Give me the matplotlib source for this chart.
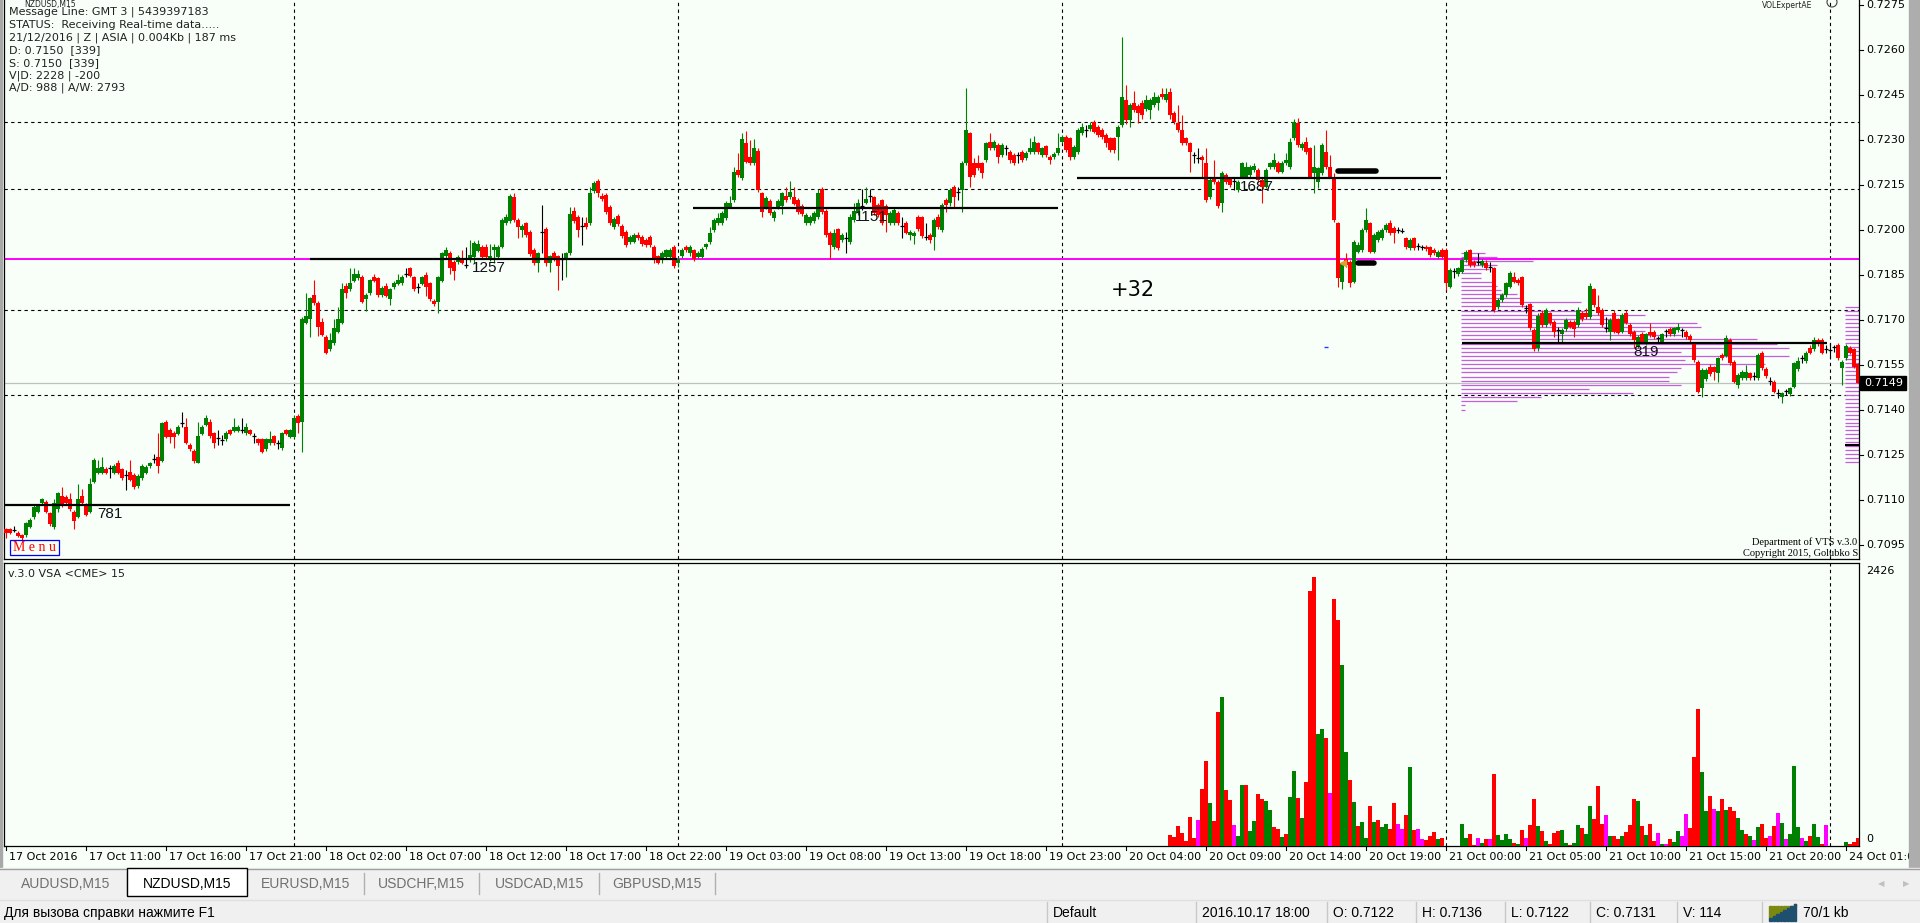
import numpy as np
import matplotlib
matplotlib.use('Agg')
import matplotlib.pyplot as plt
from matplotlib.patches import Rectangle

# ---- candles, NZDUSD M15, prices in points above 0.70000 ----
opens = [1002,1002,1000,991,983,983,1011,1042,1061,1089,1092,1055,1011,1069,1113,1111,1102,1061,1044,1113,
 1083,1061,1161,1191,1191,1203,1204,1191,1224,1202,1183,1194,1183,1147,1172,1191,1213,1235,1244,1231,
 1361,1333,1324,1320,1355,1344,1283,1264,1222,1320,1350,1361,1322,1305,1300,1302,1333,1331,1331,1333,
 1322,1333,1311,1302,1302,1269,1289,1313,1289,1272,1333,1311,1311,1380,1361,1691,1702,1783,1756,1694,
 1644,1602,1622,1661,1691,1813,1802,1831,1839,1844,1769,1789,1842,1839,1783,1813,1769,1809,1820,1822,
 1852,1872,1842,1810,1820,1850,1822,1764,1761,1831,1913,1922,1894,1894,1906,1883,1900,1911,1931,1944,
 1944,1902,1933,1911,1944,2022,2031,2111,2033,2000,2022,1994,1933,1889,1991,2003,1891,1924,1913,1902,
 1902,1922,2064,2044,2013,2022,2022,2131,2164,2113,2117,2076,2011,2047,2013,1994,1961,1961,1983,1976,
 1967,1976,1944,1913,1906,1911,1911,1944,1889,1913,1944,1922,1933,1911,1911,1942,1961,2000,2024,2022,
 2039,2078,2100,2200,2172,2289,2242,2222,2264,2122,2076,2098,2039,2076,2080,2113,2111,2111,2100,2080,
 2024,2024,2031,2042,2136,2064,1991,1942,2002,1967,1972,1961,2033,2056,2080,2091,2111,2109,2083,2100,
 2080,2022,2022,2056,2013,2024,1983,1980,2044,2042,1977,1983,1976,2044,2000,2100,2091,2144,2127,2133,
 2222,2322,2222,2222,2222,2233,2294,2272,2283,2250,2271,2261,2250,2250,2261,2239,2261,2261,2289,2250,
 2280,2244,2242,2256,2294,2311,2306,2244,2261,2322,2333,2336,2361,2344,2333,2317,2306,2306,2311,2350,
 2433,2367,2422,2413,2424,2402,2400,2417,2422,2453,2433,2461,2391,2356,2333,2306,2289,2249,2239,2244,
 2222,2111,2172,2161,2091,2183,2172,2161,2133,2178,2178,2183,2200,2200,2167,2144,2211,2211,2224,2194,
 2222,2211,2306,2356,2272,2294,2272,2189,2161,2189,2261,2211,2178,2022,1828,1902,1894,1828,1928,1933,
 2000,2022,1928,1967,1972,2000,2022,2006,1999,1997,1972,1939,1972,1947,1942,1944,1942,1933,1911,1933,
 1933,1811,1861,1853,1861,1900,1933,1894,1894,1883,1889,1877,1872,1742,1767,1783,1811,1844,1833,1842,
 1739,1753,1667,1606,1722,1683,1722,1694,1666,1653,1669,1694,1694,1683,1724,1722,1709,1802,1742,1733,
 1672,1661,1722,1702,1661,1722,1683,1661,1611,1653,1622,1661,1661,1638,1628,1661,1669,1653,1667,1664,
 1661,1647,1622,1561,1472,1502,1544,1542,1522,1583,1580,1633,1561,1483,1506,1506,1522,1511,1506,1591,
 1536,1494,1494,1456,1444,1461,1453,1478,1536,1572,1564,1606,1602,1633,1633,1602,1600,1609,1617,1539,
 1572,1606,1602,1553]
highs = [1008,1005,1013,995,985,1025,1040,1082,1088,1105,1100,1060,1102,1125,1142,1118,1122,1066,1153,1135,
 1090,1172,1240,1233,1242,1211,1217,1220,1233,1208,1200,1233,1190,1185,1220,1216,1228,1253,1324,1360,
 1366,1340,1330,1350,1394,1372,1290,1270,1361,1350,1383,1370,1328,1333,1317,1330,1338,1372,1350,1372,
 1356,1338,1322,1306,1306,1306,1331,1318,1300,1326,1338,1338,1383,1386,1710,1791,1778,1833,1762,1706,
 1650,1655,1702,1742,1824,1824,1872,1872,1866,1850,1790,1838,1853,1844,1812,1822,1808,1830,1853,1850,
 1872,1878,1848,1822,1848,1861,1828,1770,1848,1928,1945,1930,1900,1916,1933,1944,1967,1962,1967,1950,
 1953,1953,1953,1950,2040,2053,2120,2122,2040,2020,2028,2000,1940,1928,2083,2010,1918,1931,1918,1922,
 1928,2076,2076,2050,2044,2044,2142,2164,2170,2122,2122,2082,2042,2053,2020,2000,1982,1989,1994,1982,
 1972,1982,1950,1918,1930,1938,1940,1950,1911,1940,1950,1950,1938,1930,1942,1958,2011,2040,2056,2062,
 2097,2112,2211,2256,2322,2331,2300,2302,2272,2128,2112,2104,2066,2104,2128,2142,2164,2142,2106,2086,
 2056,2050,2062,2136,2142,2070,1996,2002,2008,1990,1994,2053,2089,2102,2136,2142,2136,2115,2089,2102,
 2086,2062,2076,2062,2042,2030,2000,1997,2050,2048,2022,1989,2040,2053,2090,2106,2139,2150,2144,2230,
 2472,2328,2240,2250,2228,2295,2322,2300,2290,2289,2283,2267,2256,2261,2267,2262,2306,2313,2295,2278,
 2283,2250,2260,2322,2317,2317,2311,2283,2340,2356,2350,2361,2367,2350,2340,2322,2311,2311,2350,2644,
 2483,2425,2464,2420,2433,2450,2440,2461,2450,2472,2472,2472,2397,2417,2383,2311,2295,2261,2272,2250,
 2272,2172,2233,2167,2196,2189,2178,2172,2167,2228,2228,2217,2222,2206,2172,2206,2228,2256,2230,2230,
 2256,2306,2369,2372,2294,2311,2278,2283,2211,2289,2333,2250,2189,2028,1894,1922,1900,1967,1961,2006,
 2072,2028,1989,2000,2006,2022,2033,2012,2011,2006,1978,1972,1978,1956,1950,1950,1948,1939,1933,1939,
 1939,1872,1872,1878,1906,1933,1936,1900,1922,1903,1900,1894,1878,1772,1789,1828,1864,1861,1839,1848,
 1750,1758,1672,1722,1733,1739,1728,1700,1678,1672,1706,1700,1700,1742,1730,1739,1824,1808,1783,1739,
 1711,1706,1733,1708,1722,1733,1689,1666,1650,1661,1658,1691,1666,1647,1658,1669,1675,1678,1691,1672,
 1666,1653,1628,1567,1539,1539,1553,1548,1578,1589,1650,1639,1567,1522,1533,1550,1528,1528,1589,1597,
 1542,1511,1500,1469,1461,1469,1478,1561,1578,1583,1597,1617,1642,1639,1639,1617,1622,1617,1622,1567,
 1620,1614,1608,1558]
lows = [972,985,994,976,968,978,1008,1038,1055,1085,1055,1012,1002,1060,1075,1084,1062,1002,1040,1086,
 1045,1055,1155,1186,1186,1186,1172,1186,1185,1168,1133,1162,1138,1140,1168,1185,1208,1222,1191,1225,
 1305,1291,1272,1315,1344,1285,1262,1222,1222,1315,1345,1308,1272,1283,1283,1296,1315,1326,1326,1324,
 1318,1315,1291,1284,1256,1262,1284,1284,1269,1268,1315,1305,1305,1322,1261,1685,1642,1750,1647,1645,
 1585,1598,1617,1655,1685,1772,1796,1826,1833,1755,1731,1783,1826,1778,1778,1775,1750,1803,1815,1815,
 1844,1842,1796,1791,1815,1780,1762,1748,1722,1826,1908,1853,1833,1888,1886,1872,1895,1889,1926,1906,
 1906,1898,1889,1906,1940,2017,2025,2028,1972,1978,1978,1915,1883,1861,1922,1880,1861,1897,1800,1833,
 1844,1917,2025,1978,1950,2005,2017,2125,2111,2097,2055,2018,2005,2015,1975,1944,1955,1956,1967,1948,
 1945,1944,1891,1886,1891,1906,1906,1872,1878,1908,1928,1913,1898,1906,1906,1936,1955,1995,2018,2017,
 2033,2072,2095,2178,2166,2222,2216,2216,2128,2042,2070,2050,2031,2070,2053,2095,2105,2082,2055,2048,
 2018,2018,2025,2036,2055,1978,1902,1936,1933,1961,1922,1955,2028,2050,2067,2086,2094,2050,2044,2017,
 1994,2017,2017,2017,1972,1986,1967,1953,1997,1975,1967,1956,1933,2005,1995,2060,2080,2078,2100,2061,
 2217,2144,2178,2200,2172,2228,2266,2266,2222,2244,2250,2222,2217,2222,2228,2233,2255,2255,2255,2244,
 2244,2220,2236,2250,2289,2261,2233,2238,2255,2317,2311,2330,2322,2311,2305,2278,2261,2256,2233,2344,
 2355,2344,2394,2356,2370,2396,2369,2411,2400,2436,2428,2370,2355,2328,2285,2283,2194,2224,2222,2178,
 2095,2105,2155,2072,2061,2155,2144,2133,2128,2172,2172,2178,2194,2161,2091,2139,2205,2205,2189,2189,
 2217,2205,2300,2278,2267,2255,2172,2122,2139,2183,2205,2172,2028,1811,1802,1878,1811,1822,1922,1928,
 1994,1922,1922,1961,1966,1994,1985,1956,1989,1989,1938,1933,1933,1933,1933,1930,1911,1916,1906,1906,
 1800,1806,1839,1848,1856,1895,1878,1878,1883,1878,1867,1861,1728,1736,1761,1778,1806,1822,1816,1744,
 1722,1666,1596,1596,1678,1678,1683,1644,1628,1628,1664,1672,1644,1678,1697,1703,1703,1744,1716,1678,
 1661,1633,1655,1653,1655,1686,1647,1606,1606,1622,1617,1644,1636,1622,1622,1644,1647,1647,1661,1644,
 1638,1628,1561,1455,1444,1497,1514,1500,1494,1566,1575,1550,1489,1472,1500,1500,1500,1500,1500,1533,
 1508,1483,1455,1439,1422,1450,1447,1472,1530,1556,1558,1586,1597,1614,1586,1589,1572,1594,1567,1483,
 1567,1586,1539,1489]
closes = [989,991,1001,980,972,1022,1033,1078,1080,1102,1061,1020,1091,1122,1080,1089,1069,1031,1102,1091,
 1050,1153,1233,1205,1211,1191,1205,1213,1191,1172,1184,1167,1142,1180,1213,1211,1224,1236,1213,1356,
 1311,1311,1311,1344,1356,1291,1269,1231,1313,1344,1372,1313,1291,1306,1301,1324,1320,1344,1344,1334,
 1344,1320,1312,1289,1261,1302,1302,1289,1290,1322,1320,1333,1372,1358,1702,1713,1772,1756,1678,1650,
 1591,1633,1672,1702,1802,1791,1824,1853,1853,1761,1783,1833,1831,1783,1805,1780,1802,1824,1833,1844,
 1853,1847,1802,1811,1842,1811,1769,1753,1842,1922,1933,1872,1864,1911,1891,1884,1917,1956,1953,1911,
 1911,1913,1944,1944,2033,2044,2113,2033,2011,2013,1983,1920,1889,1922,1992,1891,1913,1902,1880,1903,
 1922,2053,2031,2000,2014,2011,2124,2156,2122,2102,2061,2024,2036,2020,1980,1950,1976,1983,1972,1953,
 1950,1950,1906,1891,1924,1933,1933,1880,1902,1933,1933,1944,1902,1924,1936,1953,1991,2033,2039,2056,
 2091,2091,2194,2183,2302,2228,2222,2272,2133,2061,2106,2056,2061,2098,2122,2100,2128,2087,2061,2053,
 2050,2044,2056,2124,2061,1983,1950,1991,1939,1983,1973,2044,2064,2091,2081,2102,2112,2056,2050,2022,
 2050,2056,2067,2022,2014,1991,1994,1991,2002,1980,1978,1967,2033,2011,2083,2083,2133,2111,2128,2222,
 2333,2178,2183,2206,2189,2289,2272,2294,2244,2283,2272,2233,2222,2251,2233,2256,2272,2294,2261,2272,
 2250,2233,2253,2272,2311,2267,2244,2278,2333,2344,2334,2350,2328,2317,2311,2289,2267,2267,2344,2444,
 2367,2417,2400,2391,2383,2433,2433,2444,2444,2442,2453,2383,2361,2333,2291,2291,2261,2250,2240,2233,
 2100,2167,2161,2080,2191,2161,2150,2162,2161,2222,2211,2211,2213,2167,2144,2200,2222,2233,2194,2224,
 2233,2294,2361,2283,2287,2261,2178,2211,2206,2283,2211,2178,2033,1839,1889,1883,1822,1961,1950,2000,
 2033,1928,1983,1994,2000,2017,1991,1989,2000,1998,1944,1967,1939,1948,1943,1936,1917,1922,1928,1911,
 1822,1867,1862,1872,1900,1928,1883,1883,1895,1898,1872,1878,1733,1767,1783,1822,1858,1828,1822,1750,
 1740,1672,1602,1713,1683,1733,1689,1661,1667,1667,1700,1678,1669,1733,1702,1709,1813,1750,1722,1683,
 1673,1700,1661,1658,1717,1691,1653,1633,1644,1628,1653,1650,1642,1639,1653,1662,1653,1672,1678,1665,
 1644,1633,1567,1461,1533,1533,1520,1528,1572,1572,1639,1556,1494,1517,1528,1528,1506,1512,1583,1539,
 1513,1495,1461,1457,1456,1462,1472,1556,1564,1573,1591,1591,1633,1620,1591,1603,1601,1610,1572,1561,
 1614,1591,1544,1491]

# ---- CME volume (only partly available) ----
vol_start = [291, 364, 460]
vol_a = [97,82,176,118,44,256,74,232,503,750, 379,220,1182,1314,494,406,185,88,538,538,
 132,220,459,415,397,318,168,150,79,106, 432,662,424,247,564,2249,2376,988,1032,953,
 467,2179,1993,1596,829,582,388,176,212,71, 353,212,229,168,194,150,379,194,150,273,
 697,141,150,62,53,88,123,62,71]
vol_a_col = "rrrrrrrmrrgrrgrrmggrggrrggrrgrggrgrrrggrmrrggrgrggrgrggrrmmrgrmmrrrgr"
vol_b = [194,71,106,5,71,26,62,62,635,97, 53,106,62,26,18,141,71,185,415,176,
 132,44,18,115,132,141,26,9,26,185, 159,106,353,238,529,194,273,88,88,62,
 88,123,185,415,397,176,97,194,44,115, 18,18,62,35,132,88,282,159,785,1208,
 653,309,441,326,309,415,318,344,309,247, 141,106,88,53,168,194,71,88,176,291,
 203,62,106,706,168,71,44,88,194,79, 18,185]
vol_b_col = "ggrrmgrmrggggrgrmrrgrgrrrggrggrggrrrmgrrgrrrgrgrrmgmrggmmrrrggrmgrgrrggrgmgrrmrmgmgggmgrgg" + "rm"
vol_c = [35,18,35,71]
vol_c_col = "grrr"

# ---- daily levels ----
level_price = [0.71083, 0.71904, 0.72074, 0.72174, 0.71624]
level_text = ['781', '1257', '1151', '1687', '819']
level_from = [-0.5, 76, 171.75, 267.75, 364]
level_to = [71, 167.75, 263, 358.75, 455.25]
level_label_x = [22.75, 116.5, 212.25, 308.5, 406.75]

magenta_level = 0.71903
grid_prices = [0.72359, 0.72137, 0.71733, 0.71450]
day_breaks = [72, 168, 264, 360, 456]
last_price = 0.7149

# volume profile of 21 Oct (bar units)
prof_len = [6,9,18,9,7,5,5,8,9,10,14,15,30,18,31,46,39,59,60,46,55,74,79,82,55,82,56,76,55,54,
            52,52,55,32,43,20,14,1,1]

price_ticks = [0.7275,0.7260,0.7245,0.7230,0.7215,0.7200,0.7185,0.7170,0.7155,0.7140,0.7125,0.7110,0.7095]
time_labels = ['17 Oct 2016','17 Oct 11:00','17 Oct 16:00','17 Oct 21:00','18 Oct 02:00','18 Oct 07:00',
 '18 Oct 12:00','18 Oct 17:00','18 Oct 22:00','19 Oct 03:00','19 Oct 08:00','19 Oct 13:00','19 Oct 18:00',
 '19 Oct 23:00','20 Oct 04:00','20 Oct 09:00','20 Oct 14:00','20 Oct 19:00','21 Oct 00:00','21 Oct 05:00',
 '21 Oct 10:00','21 Oct 15:00','21 Oct 20:00','24 Oct 01:00']

info_lines = ['Message Line: GMT 3 | 5439397183', 'STATUS:  Receiving Real-time data.....',
 '21/12/2016 | Z | ASIA | 0.004Kb | 187 ms', 'D: 0.7150  [339]', 'S: 0.7150  [339]',
 'V|D: 2228 | -200', 'A/D: 988 | A/W: 2793']
tabs = ['AUDUSD,M15', 'NZDUSD,M15', 'EURUSD,M15', 'USDCHF,M15', 'USDCAD,M15', 'GBPUSD,M15']

BG = '#f8fff8'
GREEN = '#008000'
RED = '#ff0000'
MAG = '#ff00ff'
W, H = 1920, 923

o = 0.70 + np.array(opens) / 1e5
h = 0.70 + np.array(highs) / 1e5
l = 0.70 + np.array(lows) / 1e5
c = 0.70 + np.array(closes) / 1e5
n = len(c)
x = np.arange(n)

fig = plt.figure(figsize=(W / 100, H / 100), dpi=100)
fig.patch.set_facecolor(BG)

ax = fig.add_axes([4 / W, 1 - 559 / H, 1855 / W, 559 / H])
vax = fig.add_axes([4 / W, 1 - 846 / H, 1855 / W, 283 / H])
for a in (ax, vax):
    a.set_facecolor(BG)
    a.set_xlim(-0.5, 463.25)
    a.set_xticks([])
    a.set_yticks([])
    for s in a.spines.values():
        s.set_color('black')
        s.set_linewidth(0.9)
ax.spines['top'].set_visible(False)
ax.set_ylim(0.709033, 0.727667)
vax.set_ylim(0, 2497)

# grid
for d in day_breaks:
    ax.axvline(d, color='black', lw=0.8, ls=(0, (3, 3)), zorder=1)
    vax.axvline(d, color='black', lw=0.8, ls=(0, (3, 3)), zorder=1)
for gp in grid_prices:
    ax.axhline(gp, color='black', lw=0.8, ls=(0, (3, 3)), zorder=1)
ax.axhline(last_price, color='#c0c0c0', lw=0.9, zorder=1)

# volume profile
prof_levels = np.arange(len(prof_len)) * -0.0001375 + 0.71924
for pl, ln in zip(prof_levels, prof_len):
    ax.hlines(pl, 363.75, 363.75 + ln, color='#c45ee0', lw=0.9, zorder=2)
right_levels = np.arange(0.71744, 0.71220, -0.000133)
ax.hlines(right_levels, 459.75, 463.25, color='#c45ee0', lw=0.9, zorder=2)
ax.hlines(0.71283, 459.75, 463.25, color='black', lw=1.5, zorder=2)

ax.axhline(magenta_level, color=MAG, lw=1.4, zorder=2)

# candles
col = np.where(c > o, GREEN, RED)
doji = np.abs(c - o) <= 0.000011
col = np.where(doji, 'black', col)
ax.vlines(x, l, h, colors=col, lw=0.8, zorder=3)
body_lo = np.minimum(o, c)
body_h = np.abs(c - o)
nd = ~doji
ax.bar(x[nd], body_h[nd], bottom=body_lo[nd], width=0.78, color=col[nd], linewidth=0, zorder=4)
ax.hlines(c[doji], x[doji] - 0.45, x[doji] + 0.45, colors='black', lw=0.9, zorder=4)

# daily level lines
for p, t, a0, a1, lx in zip(level_price, level_text, level_from, level_to, level_label_x):
    ax.hlines(p, a0, a1, color='black', lw=1.6, zorder=5)
    ax.text(lx, p - 0.00006, t, fontsize=11, family='Liberation Sans', color='#101018',
            va='top', ha='left', zorder=6)

# signal marks
ax.plot([332.9, 342.6], [0.721977, 0.721977], color='black', lw=4, solid_capstyle='round', zorder=6)
ax.plot([337.9, 341.9], [0.71889, 0.71889], color='black', lw=4, solid_capstyle='round', zorder=6)
ax.plot([314], [0.721533], 'o', color=RED, ms=3, zorder=6)
ax.plot([334.3], [0.71890], '<', color='#e0a030', ms=4, zorder=6)
ax.hlines(0.7161, 329.5, 330.6, color='#2040ff', lw=1, zorder=6)
ax.text(281.75, 0.71800, '+32', fontsize=15, family='DejaVu Sans', ha='center', va='center', zorder=6)

# volume bars
cmap = {'r': RED, 'g': GREEN, 'm': MAG}
for st, vv, cc in ((vol_start[0], vol_a, vol_a_col), (vol_start[1], vol_b, vol_b_col),
                   (vol_start[2], vol_c, vol_c_col)):
    xs = st + np.arange(len(vv))
    vax.bar(xs, vv, width=0.78, color=[cmap[k] for k in cc], linewidth=0, zorder=3)

# ---- overlay in pixel coords ----
ov = fig.add_axes([0, 0, 1, 1])
ov.set_xlim(0, W)
ov.set_ylim(H, 0)
ov.axis('off')
ov.patch.set_alpha(0)

UI = 'DejaVu Sans'
ov.text(24, 0.5, 'NZDUSD,M15', fontsize=5.5, family=UI, va='top', color='#202020')
for i, t in enumerate(info_lines):
    ov.text(9, 12 + i * 12.7, t, fontsize=8, family=UI, va='center', color='#202020')
ov.text(1762, 0.5, 'VOLExpertAE', fontsize=5.5, family=UI, va='top', color='#202020')
ov.add_patch(plt.Circle((1832, 2), 5, fill=False, ec='#404040', lw=0.8))

# menu box
ov.add_patch(Rectangle((10, 540), 49, 15, fill=False, ec='#0000ff', lw=0.9))
ov.text(34.5, 547.5, 'M e n u', fontsize=10, family='Liberation Serif', color=RED, ha='center', va='center')
ov.text(1857, 542, 'Department of VTS v.3.0', fontsize=7.5, family='Liberation Serif', ha='right', va='center')
ov.text(1858, 553, 'Copyright 2015, Golubko S', fontsize=7.5, family='Liberation Serif', ha='right', va='center')
ov.text(8, 574, 'v.3.0 VSA <CME> 15', fontsize=8, family=UI, va='center', color='#202020')

# price axis
for p in price_ticks:
    yy = 5 + (0.7275 - p) * 30000
    ov.plot([1859, 1863], [yy, yy], color='black', lw=0.8)
    ov.text(1866, yy, '%.4f' % p, fontsize=8, family=UI, va='center', color='black')
ly = 5 + (0.7275 - last_price) * 30000
ov.add_patch(Rectangle((1860, ly - 7), 46, 14, color='black', zorder=4))
ov.text(1864, ly, '%.4f' % last_price, fontsize=8, family=UI, va='center', color='white', zorder=5)
ov.text(1866, 571, '2426', fontsize=8, family=UI, va='center')
ov.text(1866, 839, '0', fontsize=8, family=UI, va='center')

# time axis
for k, t in enumerate(time_labels):
    xx = 6 + 4 * (20 * k)
    ov.plot([xx, xx], [846, 850], color='black', lw=0.8)
    ov.text(xx + 3, 857, t, fontsize=8, family=UI, va='center', color='black')

# window chrome
ov.add_patch(Rectangle((0, 0), 2, 870, color='#a8a8a8', zorder=5))
ov.add_patch(Rectangle((1909, 0), 11, 870, color='#adadad', zorder=5))
ov.add_patch(Rectangle((0, 868), W, 55, color='#f0f0f0', zorder=5))
ov.plot([0, W], [868.5, 868.5], color='#a0a0a0', lw=1, zorder=6)
tab_edges = [4, 127, 247, 364, 479, 599, 715]
for i, t in enumerate(tabs):
    x0, x1 = tab_edges[i], tab_edges[i + 1]
    if i == 1:
        ov.add_patch(Rectangle((x0, 868), x1 - x0, 28, fc='white', ec='black', lw=1, zorder=6))
        tc = 'black'
    else:
        tc = '#707070'
        ov.plot([x1, x1], [873, 894], color='#b0b0b0', lw=1, zorder=6)
    ov.text((x0 + x1) / 2, 884, t, fontsize=10, family='Liberation Sans', color=tc,
            ha='center', va='center', zorder=7)
ov.text(1881, 884, '\u25c0', fontsize=6, color='#c0c0c0', ha='center', va='center', zorder=7)
ov.text(1906, 884, '\u25b6', fontsize=6, color='#c0c0c0', ha='center', va='center', zorder=7)
ov.plot([0, W], [899.5, 899.5], color='#e0e0e0', lw=1, zorder=6)

ov.text(4, 913, 'Для вызова справки нажмите F1', fontsize=10, family='Liberation Sans',
        va='center', color='black', zorder=7)
status = [(1047, 'Default'), (1196, '2016.10.17 18:00'), (1327, 'O: 0.7122'), (1416, 'H: 0.7136'),
          (1505, 'L: 0.7122'), (1590, 'C: 0.7131'), (1677, 'V: 114'), (1762, '')]
for sx, st in status:
    ov.plot([sx, sx], [902, 923], color='#c8c8c8', lw=1, zorder=6)
    ov.text(sx + 6, 913, st, fontsize=10, family='Liberation Sans', va='center', color='black', zorder=7)
for k in range(8):
    bx = 1769 + k * 3.5
    top = 918 - 2 * k
    ov.add_patch(Rectangle((bx, 906), 2.6, top - 906, color='#7a8a10', zorder=7))
    ov.add_patch(Rectangle((bx, top), 2.6, 921 - top, color='#1f4f6f', zorder=7))
ov.text(1803, 913, '70/1 kb', fontsize=10, family='Liberation Sans', va='center', color='black', zorder=7)

fig.savefig('out.png', dpi=100, facecolor=BG)
